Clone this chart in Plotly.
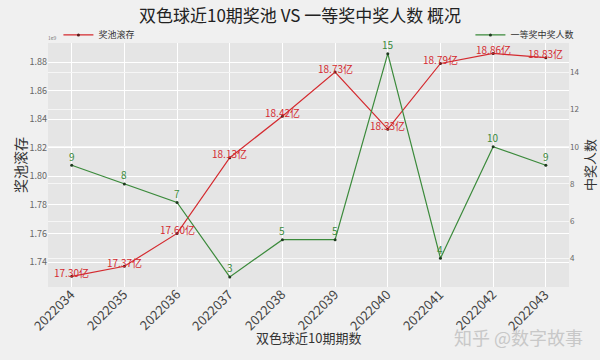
import plotly.graph_objects as go

periods = ["2022034", "2022035", "2022036", "2022037", "2022038",
           "2022039", "2022040", "2022041", "2022042", "2022043"]
pool_yi = [17.30, 17.37, 17.60, 18.13, 18.42, 18.73, 18.33, 18.79, 18.86, 18.83]
winners = [9, 8, 7, 3, 5, 5, 15, 4, 10, 9]

pool_e9 = [v / 10 for v in pool_yi]
xi = list(range(len(periods)))

RED = "#d42a2f"
GREEN = "#3b8a3b"
FONT = "Noto Sans CJK SC"

fig = go.Figure()
fig.add_trace(go.Scatter(
    x=xi, y=pool_e9, name="奖池滚存", mode="lines+markers",
    line=dict(color=RED, width=1.2),
    marker=dict(color="#5a1a1a", size=3),
    showlegend=True, legend="legend", yaxis="y"))
fig.add_trace(go.Scatter(
    x=xi, y=winners, name="一等奖中奖人数", mode="lines+markers",
    line=dict(color=GREEN, width=1.2),
    marker=dict(color="#1f3a1f", size=3),
    showlegend=True, legend="legend2", yaxis="y2"))

annotations = []
for x, v, lab in zip(xi, pool_e9, pool_yi):
    annotations.append(dict(x=x, y=v, xref="x", yref="y", text=f"{lab:.2f}亿",
                            showarrow=False, yshift=4,
                            font=dict(color=RED, size=10, family=FONT)))
for x, w in zip(xi, winners):
    annotations.append(dict(x=x, y=w, xref="x", yref="y2", text=str(w),
                            showarrow=False, yshift=9,
                            font=dict(color=GREEN, size=10, family=FONT)))
# x tick labels (rotated)
for x, p in zip(xi, periods):
    annotations.append(dict(x=x, y=0, xref="x", yref="paper", text=p,
                            showarrow=False, textangle=-45,
                            xanchor="center", yanchor="middle", xshift=-18, yshift=-22,
                            font=dict(color="#444", size=13, family=FONT)))
annotations.append(dict(x=0, y=1.0, xref="paper", yref="paper", text="1e9",
                        showarrow=False, xanchor="left", yanchor="bottom",
                        xshift=-2, yshift=0,
                        font=dict(color="#777", size=5, family=FONT)))
annotations.append(dict(x=1.0, y=0, xref="paper", yref="paper", text="知乎 @数字故事",
                        showarrow=False, xanchor="right", yanchor="middle",
                        xshift=16, yshift=-50,
                        font=dict(color="#c8c8c8", size=18, family=FONT)))
# axis titles
annotations.append(dict(x=0, y=0.5, xref="paper", yref="paper", text="奖池滚存",
                        showarrow=False, textangle=-90, xanchor="center", yanchor="middle",
                        xshift=-28, font=dict(color="#333", size=14, family=FONT)))
annotations.append(dict(x=1, y=0.5, xref="paper", yref="paper", text="中奖人数",
                        showarrow=False, textangle=-90, xanchor="center", yanchor="middle",
                        xshift=20, font=dict(color="#333", size=13, family=FONT)))
annotations.append(dict(x=0.5, y=0, xref="paper", yref="paper", text="双色球近10期期数",
                        showarrow=False, xanchor="center", yanchor="middle",
                        yshift=-50, font=dict(color="#333", size=13, family=FONT)))

fig.update_layout(
    width=600, height=360,
    margin=dict(l=48, r=31, t=43, b=73),
    paper_bgcolor="#f0f0f0",
    plot_bgcolor="#e5e5e5",
    font=dict(family=FONT, color="#555"),
    title=dict(text="双色球近10期奖池 VS 一等奖中奖人数 概况",
               x=0.5, xanchor="center", y=0.955, yanchor="middle",
               font=dict(size=17, color="#222", family=FONT)),
    xaxis=dict(tickmode="array", tickvals=xi, ticktext=[""] * len(xi),
               range=[-0.45, 9.44],
               showgrid=True, gridcolor="#ffffff", gridwidth=1,
               zeroline=False, ticks="", showline=False),
    yaxis=dict(range=[1.7225, 1.8933], tickvals=[1.74, 1.76, 1.78, 1.80, 1.82, 1.84, 1.86, 1.88],
               tickformat=".2f", tickfont=dict(size=9, color="#666"),
               showgrid=True, gridcolor="#ffffff", gridwidth=1,
               zeroline=False, ticks=""),
    yaxis2=dict(range=[2.457, 15.575], tickvals=[4, 6, 8, 10, 12, 14],
                overlaying="y", side="right",
                tickfont=dict(size=8, color="#666"),
                showgrid=True, gridcolor="#f6f6f6", gridwidth=1,
                zeroline=False, ticks=""),
    legend=dict(x=0.02, y=1.033, xanchor="left", yanchor="middle",
                bgcolor="rgba(0,0,0,0)", font=dict(size=9, color="#333"),
                itemwidth=30),
    legend2=dict(x=1.02, y=1.033, xanchor="right", yanchor="middle",
                 bgcolor="rgba(0,0,0,0)", font=dict(size=9, color="#333"),
                 itemwidth=30),
    annotations=annotations,
)

fig.write_html("out.html", config={"displayModeBar": False},
               post_script="document.body.style.margin='0';")
